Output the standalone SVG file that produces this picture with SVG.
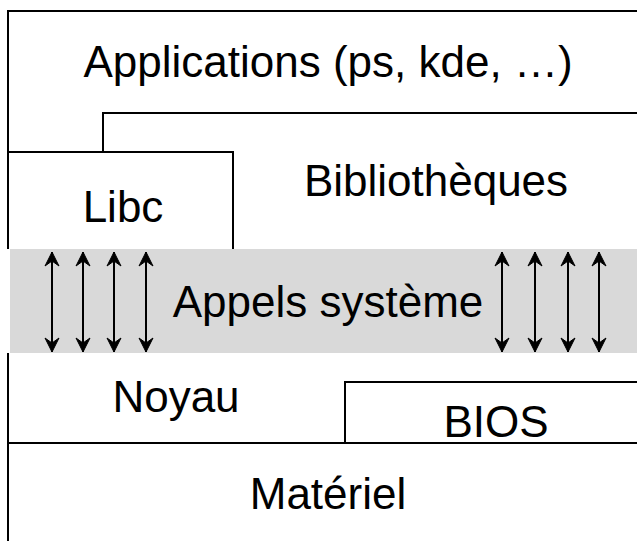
<svg xmlns="http://www.w3.org/2000/svg" width="637" height="541" viewBox="0 0 637 541">
<style>
.ln{stroke:#000;stroke-width:2;fill:none}
.t{font-family:"Liberation Sans",Arial,sans-serif;font-size:44px;fill:#000;text-anchor:middle}
.ar{stroke:#000;stroke-width:2;fill:none;marker-start:url(#ah);marker-end:url(#ah)}
</style>
<defs>
<marker id="ah" viewBox="-15 -9 16 18" refX="0" refY="0" markerWidth="16" markerHeight="18" markerUnits="userSpaceOnUse" orient="auto-start-reverse">
<path d="M0,0 L-14,-7 L-9,0 L-14,7 Z" fill="#000" stroke="#000" stroke-width="1" stroke-linejoin="miter"/>
</marker>
</defs>
<rect width="637" height="541" fill="#fff"/>
<g id="band">
<rect x="10" y="249" width="627" height="104" fill="#d9d9d9"/>
</g>
<g id="applications">
<path class="ln" d="M637,11 H8 V249"/>
<text class="t" x="328" y="77">Applications (ps, kde, …)</text>
</g>
<g id="bibliotheques">
<path class="ln" d="M637,113 H103 V152"/>
<text class="t" x="436" y="196">Bibliothèques</text>
</g>
<g id="libc">
<path class="ln" d="M8,152 H233 V249"/>
<text class="t" x="123" y="222">Libc</text>
</g>
<g id="appels">
<text class="t" x="328" y="317">Appels système</text>
</g>
<g id="noyau">
<path class="ln" d="M8,353 V443"/>
<text class="t" x="176" y="412">Noyau</text>
</g>
<g id="bios">
<path class="ln" d="M637,382 H345 V443"/>
<text class="t" x="496" y="437">BIOS</text>
</g>
<g id="materiel">
<path class="ln" d="M8,443 H637 M8,443 V541"/>
<text class="t" x="328" y="509">Matériel</text>
</g>
<g id="connectors">
<line class="ar" x1="52" y1="252" x2="52" y2="352"/>
<line class="ar" x1="83" y1="252" x2="83" y2="352"/>
<line class="ar" x1="114" y1="252" x2="114" y2="352"/>
<line class="ar" x1="146" y1="252" x2="146" y2="352"/>
<line class="ar" x1="502" y1="252" x2="502" y2="352"/>
<line class="ar" x1="535" y1="252" x2="535" y2="352"/>
<line class="ar" x1="568" y1="252" x2="568" y2="352"/>
<line class="ar" x1="599" y1="252" x2="599" y2="352"/>
</g>
</svg>
